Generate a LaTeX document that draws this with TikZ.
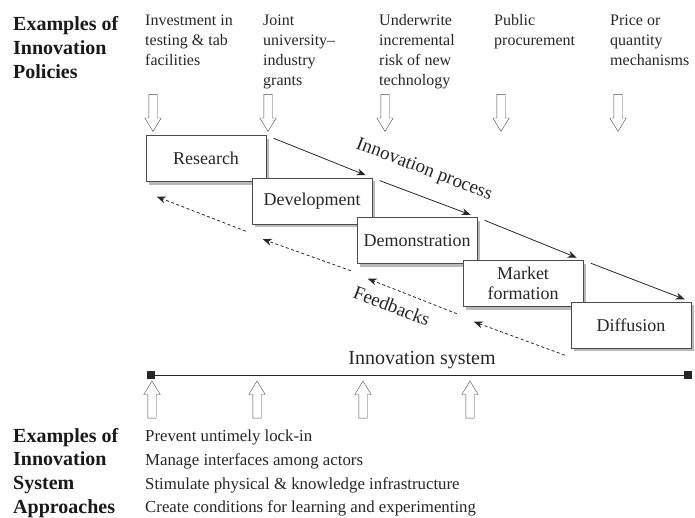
\documentclass[tikz,border=0pt]{standalone}
\usepackage{fontspec}
\setmainfont{Liberation Serif}
\usetikzlibrary{shapes.arrows,shadows,calc,arrows.meta}

\begin{document}
\begin{tikzpicture}[x=1pt,y=-1pt]
\tikzstyle{stage}=[draw=black!70,fill=white,minimum width=120pt,minimum height=46pt,align=center,text=black!85,font=\fontsize{18}{20}\selectfont,drop shadow={shadow xshift=3pt,shadow yshift=-3pt,fill=black!55}]
\tikzstyle{head}=[anchor=north west,inner sep=0pt,align=left,text=black!90,font=\fontsize{20}{24}\selectfont\bfseries]
\tikzstyle{policy}=[anchor=north west,inner sep=0pt,align=left,text=black!85,font=\fontsize{16}{20}\selectfont]
\tikzstyle{approach}=[anchor=north west,inner sep=0pt,align=left,text=black!85,font=\fontsize{16.8}{23.7}\selectfont]
\tikzstyle{down}=[single arrow,draw=black!70,fill=white,inner sep=4pt,minimum height=37pt,minimum width=16pt,single arrow head extend=4pt,single arrow tip angle=63,shape border rotate=270]
\tikzstyle{up}=[down,shape border rotate=90]
\tikzstyle{process}=[-{Stealth[length=9pt,width=7pt]},line width=0.8pt,black!85]
\tikzstyle{feedback}=[-{Stealth[length=9pt,width=7pt]},line width=0.8pt,dash pattern=on 3pt off 2.5pt,black!85]
\tikzstyle{label}=[text=black!85,font=\fontsize{19}{22}\selectfont]
\tikzstyle{end}=[fill=black!85,minimum size=8pt,inner sep=0pt]
\useasboundingbox (0,0) rectangle (695,517);
% headings
\node[head] (H_1) at (13,16) {Examples of\\Innovation\\Policies};
\node[head,font=\fontsize{20}{23.7}\selectfont\bfseries] (H_2) at (13,428) {Examples of\\Innovation\\System\\Approaches};
% policies
\node[policy] (P_1) at (145,14.5) {Investment in\\testing \& tab\\facilities};
\node[policy] (P_2) at (263,14.5) {Joint\\university--\\industry\\grants};
\node[policy] (P_3) at (379,14.5) {Underwrite\\incremental\\risk of new\\technology};
\node[policy] (P_4) at (494,14.5) {Public\\procurement};
\node[policy] (P_5) at (610,14.5) {Price or\\quantity\\mechanisms};
\node[down] (D_1) at (153,109.5) {};
\node[down] (D_2) at (268,109.5) {};
\node[down] (D_3) at (385,109.5) {};
\node[down] (D_4) at (501,109.5) {};
\node[down] (D_5) at (618,109.5) {};
% stages
\node[stage] (S_1) at (206,158.5) {Research};
\node[stage] (S_2) at (312,201) {Development};
\node[stage] (S_3) at (417,240.5) {Demonstration};
\node[stage] (S_4) at (523,283.5) {Market\\formation};
\node[stage] (S_5) at (631,325) {Diffusion};
\draw[process,shorten <=8pt,shorten >=7pt] (S_1.north east) -- (S_2.north east);
\draw[process,shorten <=8pt,shorten >=7pt] (S_2.north east) -- (S_3.north east);
\draw[process,shorten <=8pt,shorten >=7pt] (S_3.north east) -- (S_4.north east);
\draw[process,shorten <=8pt,shorten >=7pt] (S_4.north east) -- (S_5.north east);
\draw[feedback] ($(S_2.south west)+(-6,7)$) -- ($(S_1.south west)+(11,15)$);
\draw[feedback] ($(S_3.south west)+(-6,7)$) -- ($(S_2.south west)+(11,15)$);
\draw[feedback] ($(S_4.south west)+(-6,7)$) -- ($(S_3.south west)+(11,15)$);
\draw[feedback] ($(S_5.south west)+(-6,7)$) -- ($(S_4.south west)+(11,15)$);
\node[label,rotate=-21] (L_1) at (424,170) {Innovation process};
\node[label,rotate=-21] (L_2) at (392,306) {Feedbacks};
% innovation system
\node[end] (E_1) at (151,375) {};
\node[end] (E_2) at (688,375) {};
\draw[line width=1pt,black!85] (E_1) -- (E_2);
\node[label,font=\fontsize{20}{22}\selectfont] (L_3) at (422,360) {Innovation system};
\node[up] (U_1) at (152,403) {};
\node[up] (U_2) at (257,403) {};
\node[up] (U_3) at (363,403) {};
\node[up] (U_4) at (470,403) {};
% approaches
\node[approach] (A_1) at (145,430) {Prevent untimely lock-in\\Manage interfaces among actors\\Stimulate physical \& knowledge infrastructure\\Create conditions for learning and experimenting};
\end{tikzpicture}
\end{document}
